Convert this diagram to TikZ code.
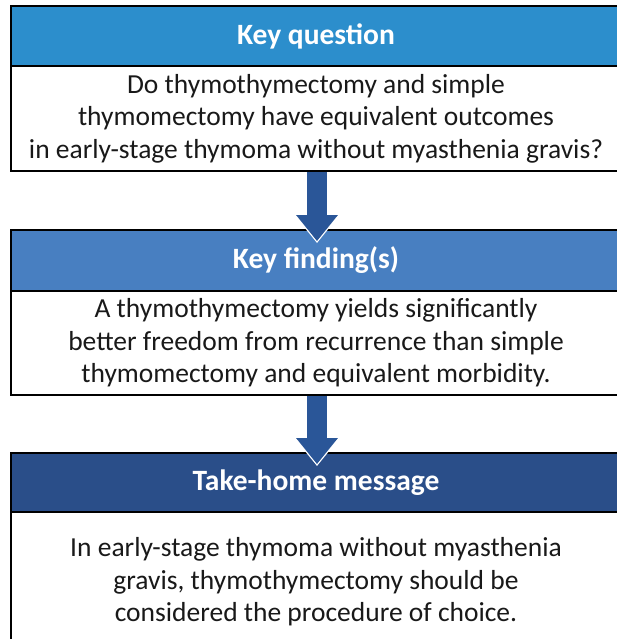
\documentclass[tikz,border=0pt]{standalone}
\usepackage{fontspec}
\setmainfont{Carlito}
\usetikzlibrary{arrows.meta}
\definecolor{qblue}{RGB}{44,142,204}
\definecolor{fblue}{RGB}{72,127,193}
\definecolor{tblue}{RGB}{42,78,137}
\definecolor{arrowblue}{RGB}{42,86,152}
\tikzset{
  headbox/.style={draw=black,line width=1.8pt,minimum width=610pt,inner sep=0pt,text=white,font=\fontsize{29.5}{34}\selectfont\bfseries},
  bodybox/.style={draw=black,line width=1.8pt,fill=white,minimum width=610pt,inner sep=0pt,align=center,text=black!90,font=\fontsize{27.5}{32.5}\selectfont},
  flow/.style={arrowblue,line width=20pt,-{Triangle[width=40pt,length=26pt]}},
  flowedge/.style={white,line width=23pt,shorten <=2pt,-{Triangle[width=45pt,length=29pt]}}
}
\begin{document}
\begin{tikzpicture}[x=1pt,y=-1pt]
 \useasboundingbox (0,0) rectangle (616,639);
 % question
 \node[headbox,fill=qblue,minimum height=60pt] (qhead) at (316,36) {Key question};
 \node[bodybox,minimum height=105pt] (qbody) at (316,118.5) {Do thymothymectomy and simple\\thymomectomy have equivalent outcomes\\in early-stage thymoma without myasthenia gravis?};
 % finding
 \node[headbox,fill=fblue,minimum height=61pt] (fhead) at (316,260.5) {Key finding(s)};
 \node[bodybox,minimum height=104pt] (fbody) at (316,343) {A thymothymectomy yields significantly\\better freedom from recurrence than simple\\thymomectomy and equivalent morbidity.};
 % message
 \node[headbox,fill=tblue,minimum height=59pt] (thead) at (316,482.5) {Take-home message};
 \node[bodybox,minimum height=140pt] (tbody) at (316,582) {In early-stage thymoma without myasthenia\\gravis, thymothymectomy should be\\considered the procedure of choice.};
 % arrows
 \draw[flowedge,shorten >=-14pt] ([xshift=1pt]qbody.south) -- ([xshift=1pt]fhead.north);
 \draw[flow,shorten >=-12pt] ([xshift=1pt]qbody.south) -- ([xshift=1pt]fhead.north);
 \draw[flowedge,shorten >=-14pt] ([xshift=1pt]fbody.south) -- ([xshift=1pt]thead.north);
 \draw[flow,shorten >=-12pt] ([xshift=1pt]fbody.south) -- ([xshift=1pt]thead.north);
\end{tikzpicture}
\end{document}
